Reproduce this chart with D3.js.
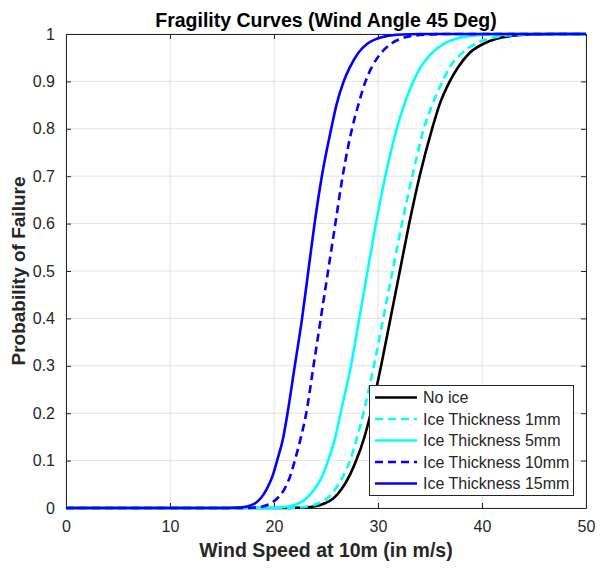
<!DOCTYPE html>
<html><head><meta charset="utf-8">
<script src="https://cdn.jsdelivr.net/npm/d3@7"></script>
<style>
body{margin:0;background:#fff}
svg{display:block}
text{font-family:"Liberation Sans",Arial,Helvetica,sans-serif}
</style>
</head><body>
<svg id="chart" width="600" height="571"></svg>
<script>
// Probability levels at which each curve's wind speed was read (first/last points extend flat to axis ends)
const probLevels = [0, 0, 0.001, 0.003, 0.01, 0.02, 0.04, 0.07, 0.1, 0.15, 0.2, 0.3, 0.4, 0.5, 0.6, 0.7, 0.8, 0.85, 0.9, 0.93, 0.96, 0.98, 0.99, 0.995, 0.999, 1, 1];
// Wind speeds (m/s) for each curve at the probability levels above
const noIce   = [0, 21.4, 22.9, 23.8, 24.9, 25.7, 26.5, 27.3, 27.9, 28.7, 29.3, 30.3, 31.2, 32.1, 33.0, 34.0, 35.2, 35.9, 36.9, 37.7, 38.8, 40.2, 41.4, 42.5, 44.9, 47.0, 50];
const ice1mm  = [0, 20.8, 22.3, 23.2, 24.3, 25.1, 25.9, 26.7, 27.3, 28.0, 28.6, 29.6, 30.5, 31.4, 32.3, 33.3, 34.4, 35.2, 36.2, 36.9, 38.1, 39.4, 40.6, 41.7, 44.1, 46.0, 50];
const ice5mm  = [0, 19.2, 20.6, 21.4, 22.4, 23.1, 23.9, 24.7, 25.2, 25.9, 26.4, 27.4, 28.2, 29.0, 29.8, 30.7, 31.8, 32.5, 33.4, 34.1, 35.2, 36.4, 37.5, 38.5, 40.7, 42.5, 50];
const ice10mm = [0, 16.9, 18.2, 18.9, 19.7, 20.3, 21.0, 21.6, 22.0, 22.6, 23.1, 23.8, 24.5, 25.2, 25.9, 26.6, 27.5, 28.1, 28.8, 29.4, 30.3, 31.3, 32.2, 33.0, 34.9, 36.5, 50];
const ice15mm = [0, 15.5, 16.7, 17.4, 18.2, 18.7, 19.3, 19.9, 20.3, 20.9, 21.3, 22.0, 22.7, 23.3, 23.9, 24.6, 25.5, 26.0, 26.7, 27.3, 28.1, 29.0, 29.9, 30.7, 32.4, 34.0, 50];

const seriesNames = ["No ice", "Ice Thickness 1mm", "Ice Thickness 5mm", "Ice Thickness 10mm", "Ice Thickness 15mm"];
const seriesData = [noIce, ice1mm, ice5mm, ice10mm, ice15mm];
const seriesColors = ["#000000", "#00FFFF", "#00FFFF", "#0000FF", "#0000FF"];
const seriesDashed = [false, true, false, true, false];

const xTicks = [0, 10, 20, 30, 40, 50];
const yTicks = [0, 0.1, 0.2, 0.3, 0.4, 0.5, 0.6, 0.7, 0.8, 0.9, 1];

const titleText = "Fragility Curves (Wind Angle 45 Deg)";
const xLabel = "Wind Speed at 10m (in m/s)";
const yLabel = "Probability of Failure";

const svg = d3.select("#chart");
const L = 66, R = 586, T = 34, B = 508;
const x = d3.scaleLinear().domain([0, 50]).range([L, R]);
const y = d3.scaleLinear().domain([0, 1]).range([B, T]);
const axisColor = "#262626";
const gridColor = "#e3e3e3";

// grid
const grid = svg.append("g");
grid.selectAll(".gx").data(xTicks).join("line")
  .attr("x1", d => x(d)).attr("x2", d => x(d)).attr("y1", T).attr("y2", B)
  .attr("stroke", gridColor).attr("stroke-width", 1);
grid.selectAll(".gy").data(yTicks).join("line")
  .attr("y1", d => y(d)).attr("y2", d => y(d)).attr("x1", L).attr("x2", R)
  .attr("stroke", gridColor).attr("stroke-width", 1);

// axes
function styleAxis(g) {
  g.select(".domain").attr("stroke", axisColor);
  g.selectAll(".tick line").attr("stroke", axisColor);
  g.selectAll(".tick text").attr("fill", axisColor).style("font-size", "16px");
}
svg.append("g").attr("transform", `translate(0,${B})`)
  .call(d3.axisBottom(x).tickValues(xTicks).tickSizeInner(-5).tickSizeOuter(0).tickPadding(13).tickFormat(d3.format("d")))
  .call(styleAxis);
svg.append("g").attr("transform", `translate(0,${T})`)
  .call(d3.axisTop(x).tickValues(xTicks).tickSizeInner(-5).tickSizeOuter(0).tickFormat(""))
  .call(styleAxis);
svg.append("g").attr("transform", `translate(${L},0)`)
  .call(d3.axisLeft(y).tickValues(yTicks).tickSizeInner(-5).tickSizeOuter(0).tickPadding(11).tickFormat(d3.format("~g")))
  .call(styleAxis);
svg.append("g").attr("transform", `translate(${R},0)`)
  .call(d3.axisRight(y).tickValues(yTicks).tickSizeInner(-5).tickSizeOuter(0).tickFormat(""))
  .call(styleAxis);

// curves
const line = d3.line().x(d => x(d[0])).y(d => y(d[1])).curve(d3.curveMonotoneX);
seriesData.forEach((arr, i) => {
  const pts = arr.map((v, j) => [v, probLevels[j]]);
  svg.append("path").datum(pts)
    .attr("d", line).attr("fill", "none")
    .attr("stroke", seriesColors[i]).attr("stroke-width", 2.6)
    .attr("stroke-dasharray", seriesDashed[i] ? "8,5" : null);
});

// title and labels
svg.append("text").attr("x", (L + R) / 2).attr("y", 27).attr("text-anchor", "middle")
  .style("font-size", "19.5px").style("font-weight", "bold").attr("fill", "#000").text(titleText);
svg.append("text").attr("x", (L + R) / 2).attr("y", 557).attr("text-anchor", "middle")
  .style("font-size", "19.5px").style("font-weight", "bold").attr("fill", axisColor).text(xLabel);
svg.append("text").attr("transform", `translate(25,${(T + B) / 2}) rotate(-90)`).attr("text-anchor", "middle")
  .style("font-size", "19px").style("font-weight", "bold").attr("fill", axisColor).text(yLabel);

// legend
const lg = svg.append("g");
lg.append("rect").attr("x", 369.5).attr("y", 385.5).attr("width", 204).attr("height", 110)
  .attr("fill", "#fff").attr("stroke", axisColor).attr("stroke-width", 1);
seriesNames.forEach((name, i) => {
  const yy = 397.5 + i * 21.5;
  lg.append("line").attr("x1", 375).attr("x2", 417).attr("y1", yy).attr("y2", yy)
    .attr("stroke", seriesColors[i]).attr("stroke-width", 2.6)
    .attr("stroke-dasharray", seriesDashed[i] ? "8,5" : null);
  lg.append("text").attr("x", 423).attr("y", yy).attr("dy", "0.35em")
    .style("font-size", "16px").attr("fill", axisColor).text(name);
});
</script>
</body></html>
